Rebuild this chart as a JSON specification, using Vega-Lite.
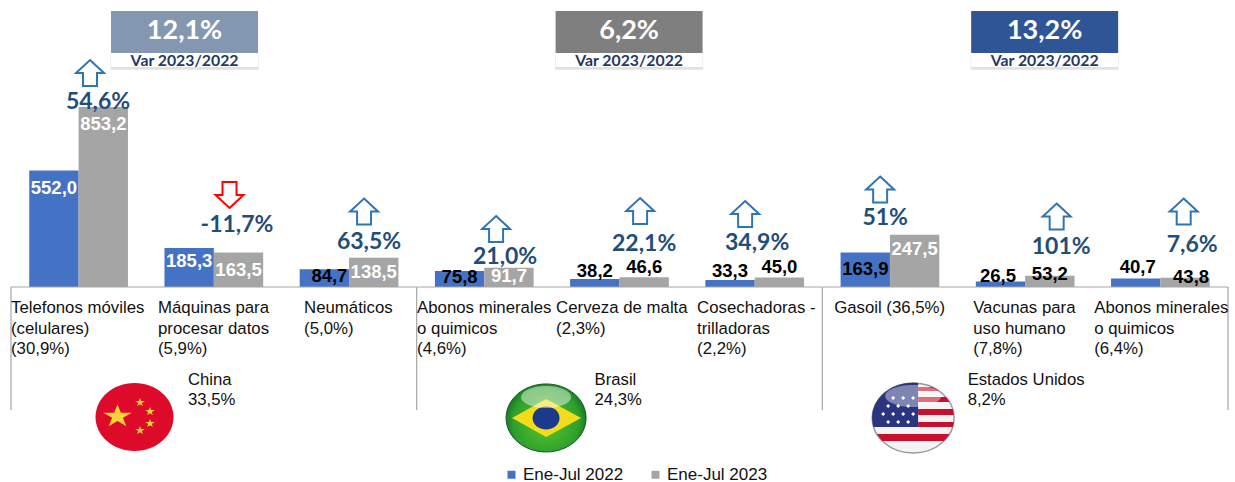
{
"$schema":"https://vega.github.io/schema/vega-lite/v6.json",
"width":1235,"height":482,
"autosize":{"type":"fit","contains":"padding"},
"padding":0,
"background":"white",
"config":{"view":{"stroke":null},"axis":{"disable":true}},
"params":[
{"name":"arrowDx","value":[11.4,15.7,15,11.8,20.6,-9.6,-9.8,31.5,23.3]},
{"name":"arrowDy","value":[-214,-92,-75.5,-58,-76,-73,-97.5,-70.5,-75.5]},
{"name":"pctDx","value":[19.4,23.2,20,20.8,24.6,2.4,-4.8,36,31.8]},
{"name":"pctDy","value":[-185,-62,-45,-30,-43,-44,-69,-40,-42]},
{"name":"catDx","value":[-67.6,-55.8,-45,-67.2,-63.4,-57.6,-55.8,-52,-66.2]},
{"name":"labelDy","value":{"552,0":17.5,"853,2":17,"185,3":13,"163,5":17.5,"84,7":7,"138,5":14,"75,8":6,"91,7":8.3,"38,2":-8,"46,6":-10,"33,3":-9,"45,0":-10.5,"163,9":16.6,"247,5":14,"26,5":-5.4,"53,2":-1.8,"40,7":-11.4,"43,8":-0.8}},
{"name":"labelDx","value":{"84,7":5,"26,5":-2.5,"40,7":2,"43,8":6}},
{"name":"boxDx","value":{"China":-29.3,"Brasil":9.6,"Estados Unidos":19.5}},
{"name":"countryDx","value":{"China":109.4,"Brasil":110.3,"Estados Unidos":77.7}}
],
"datasets":{
"values":[
{"category":"Telefonos móviles\n(celulares)\n(30,9%)","period":"Ene-Jul 2022","value":552.0,"label":"552,0"},
{"category":"Telefonos móviles\n(celulares)\n(30,9%)","period":"Ene-Jul 2023","value":853.2,"label":"853,2"},
{"category":"Máquinas para\nprocesar datos\n(5,9%)","period":"Ene-Jul 2022","value":185.3,"label":"185,3"},
{"category":"Máquinas para\nprocesar datos\n(5,9%)","period":"Ene-Jul 2023","value":163.5,"label":"163,5"},
{"category":"Neumáticos\n(5,0%)","period":"Ene-Jul 2022","value":84.7,"label":"84,7"},
{"category":"Neumáticos\n(5,0%)","period":"Ene-Jul 2023","value":138.5,"label":"138,5"},
{"category":"Abonos minerales\no quimicos\n(4,6%)","period":"Ene-Jul 2022","value":75.8,"label":"75,8"},
{"category":"Abonos minerales\no quimicos\n(4,6%)","period":"Ene-Jul 2023","value":91.7,"label":"91,7"},
{"category":"Cerveza de malta\n(2,3%)","period":"Ene-Jul 2022","value":38.2,"label":"38,2"},
{"category":"Cerveza de malta\n(2,3%)","period":"Ene-Jul 2023","value":46.6,"label":"46,6"},
{"category":"Cosechadoras -\ntrilladoras\n(2,2%)","period":"Ene-Jul 2022","value":33.3,"label":"33,3"},
{"category":"Cosechadoras -\ntrilladoras\n(2,2%)","period":"Ene-Jul 2023","value":45.0,"label":"45,0"},
{"category":"Gasoil (36,5%)","period":"Ene-Jul 2022","value":163.9,"label":"163,9"},
{"category":"Gasoil (36,5%)","period":"Ene-Jul 2023","value":247.5,"label":"247,5"},
{"category":"Vacunas para\nuso humano\n(7,8%)","period":"Ene-Jul 2022","value":26.5,"label":"26,5"},
{"category":"Vacunas para\nuso humano\n(7,8%)","period":"Ene-Jul 2023","value":53.2,"label":"53,2"},
{"category":"Abonos minerales\no quimicos\n(6,4%)","period":"Ene-Jul 2022","value":40.7,"label":"40,7"},
{"category":"Abonos minerales\no quimicos\n(6,4%)","period":"Ene-Jul 2023","value":43.8,"label":"43,8"}
],
"products":[
{"rank":1,"category":"Telefonos móviles\n(celulares)\n(30,9%)","change":"54,6%","direction":"up"},
{"rank":2,"category":"Máquinas para\nprocesar datos\n(5,9%)","change":"-11,7%","direction":"down"},
{"rank":3,"category":"Neumáticos\n(5,0%)","change":"63,5%","direction":"up"},
{"rank":4,"category":"Abonos minerales\no quimicos\n(4,6%)","change":"21,0%","direction":"up"},
{"rank":5,"category":"Cerveza de malta\n(2,3%)","change":"22,1%","direction":"up"},
{"rank":6,"category":"Cosechadoras -\ntrilladoras\n(2,2%)","change":"34,9%","direction":"up"},
{"rank":7,"category":"Gasoil (36,5%)","change":"51%","direction":"up"},
{"rank":8,"category":"Vacunas para\nuso humano\n(7,8%)","change":"101%","direction":"up"},
{"rank":9,"category":"Abonos minerales\no quimicos\n(6,4%)","change":"7,6%","direction":"up"}
],
"groups":[
{"country":"China","share":"China\n33,5%","change":"12,1%","note":"Var 2023/2022","first":"Telefonos móviles\n(celulares)\n(30,9%)","middle":"Máquinas para\nprocesar datos\n(5,9%)","last":"Neumáticos\n(5,0%)"},
{"country":"Brasil","share":"Brasil\n24,3%","change":"6,2%","note":"Var 2023/2022","first":"Abonos minerales\no quimicos\n(4,6%)","middle":"Cerveza de malta\n(2,3%)","last":"Cosechadoras -\ntrilladoras\n(2,2%)"},
{"country":"Estados Unidos","share":"Estados Unidos\n8,2%","change":"13,2%","note":"Var 2023/2022","first":"Gasoil (36,5%)","middle":"Vacunas para\nuso humano\n(7,8%)","last":"Abonos minerales\no quimicos\n(6,4%)"}
]
},
"layer":[
{"data":{"name":"values"},"mark":{"type":"bar"},
 "encoding":{
  "x":{"field":"category","type":"nominal","axis":null,"sort":null,"scale":{"domain":["Telefonos móviles\n(celulares)\n(30,9%)","Máquinas para\nprocesar datos\n(5,9%)","Neumáticos\n(5,0%)","Abonos minerales\no quimicos\n(4,6%)","Cerveza de malta\n(2,3%)","Cosechadoras -\ntrilladoras\n(2,2%)","Gasoil (36,5%)","Vacunas para\nuso humano\n(7,8%)","Abonos minerales\no quimicos\n(6,4%)"],"range":[11,1228],"paddingInner":0.27,"paddingOuter":0.135}},
  "xOffset":{"field":"period","type":"nominal","scale":{"paddingInner":0,"paddingOuter":0}},
  "y":{"field":"value","type":"quantitative","axis":null,"scale":{"domain":[-924.3,1360.4],"nice":false,"zero":false}},
  "color":{"field":"period","type":"nominal","scale":{"domain":["Ene-Jul 2022","Ene-Jul 2023"],"range":["#4472c4","#a5a5a5"]},
   "legend":{"orient":"none","legendX":503,"legendY":466,"direction":"horizontal","title":null,"symbolType":"square","symbolSize":64,"labelFontSize":17,"labelFont":"Liberation Sans","labelColor":"#111","columnPadding":23,"labelOffset":3,"symbolStrokeWidth":0,"labelLimit":140}}
 }},
{"data":{"name":"groups"},"mark":{"type":"rule","color":"#a6a6a6","strokeWidth":1.2,"xOffset":-67.6,"x2Offset":67.6},
 "encoding":{"x":{"field":"first","type":"nominal"},"x2":{"field":"last"},"y":{"datum":0}}},
{"data":{"name":"groups"},"mark":{"type":"rule","color":"#a6a6a6","strokeWidth":1.2,"xOffset":-67.6},
 "encoding":{"x":{"field":"first","type":"nominal"},"y":{"datum":0},"y2":{"datum":-583}}},
{"data":{"name":"groups"},"transform":[{"filter":"datum.country=='Estados Unidos'"}],"mark":{"type":"rule","color":"#a6a6a6","strokeWidth":1.2,"xOffset":67.6},
 "encoding":{"x":{"field":"last","type":"nominal"},"y":{"datum":0},"y2":{"datum":-583}}},
{"data":{"name":"values"},"mark":{"type":"text","font":"Liberation Sans","fontWeight":"bold","fontSize":18.5,"baseline":"middle","dx":{"expr":"labelDx[datum.label]||0"},"dy":{"expr":"labelDy[datum.label]"}},
 "encoding":{
  "x":{"field":"category","type":"nominal"},
  "xOffset":{"field":"period","type":"nominal"},
  "y":{"field":"value","type":"quantitative"},
  "text":{"field":"label"},
  "color":{"condition":{"test":"indexof(['552,0','853,2','185,3','163,5','138,5','91,7','247,5'],datum.label)>=0","value":"white"},"value":"black"}
 }},
{"data":{"name":"products"},"mark":{"type":"text","font":"Liberation Sans","fontSize":16.8,"align":"left","baseline":"middle","lineBreak":"\n","lineHeight":20.5,"color":"#111","dx":{"expr":"catDx[datum.rank-1]"},"dy":21},
 "encoding":{"x":{"field":"category","type":"nominal"},"y":{"datum":0},"text":{"field":"category"}}},
{"data":{"name":"products"},"transform":[{"filter":"datum.direction=='up'"}],"mark":{"type":"point","filled":true,"opacity":1,"size":4,"fill":"white","stroke":"#2e75b6","strokeWidth":2,"shape":"M0 -13 L14 0 L7 0 L7 13 L-7 13 L-7 0 L-14 0 Z","xOffset":{"expr":"arrowDx[datum.rank-1]"},"yOffset":{"expr":"arrowDy[datum.rank-1]"}},
 "encoding":{"x":{"field":"category","type":"nominal"},"y":{"datum":0}}},
{"data":{"name":"products"},"transform":[{"filter":"datum.direction=='down'"}],"mark":{"type":"point","filled":true,"opacity":1,"size":4,"fill":"white","stroke":"#ff0000","strokeWidth":2,"shape":"M0 13 L14 0 L7 0 L7 -13 L-7 -13 L-7 0 L-14 0 Z","xOffset":{"expr":"arrowDx[datum.rank-1]"},"yOffset":{"expr":"arrowDy[datum.rank-1]"}},
 "encoding":{"x":{"field":"category","type":"nominal"},"y":{"datum":0}}},
{"data":{"name":"products"},"mark":{"type":"text","font":"Lato","fontWeight":"bold","fontSize":23,"color":"#1f4e79","baseline":"middle","dx":{"expr":"pctDx[datum.rank-1]"},"dy":{"expr":"pctDy[datum.rank-1]"}},
 "encoding":{"x":{"field":"category","type":"nominal"},"y":{"datum":0},"text":{"field":"change"}}},
{"data":{"name":"groups"},"mark":{"type":"bar","width":148,"color":"#e2e2e2","xOffset":{"expr":"boxDx[datum.country]"}},
 "encoding":{"x":{"field":"middle","type":"nominal"},"y":{"datum":1100},"y2":{"datum":1030}}},
{"data":{"name":"groups"},"mark":{"type":"bar","width":147,"color":"white","xOffset":{"expr":"boxDx[datum.country]"}},
 "encoding":{"x":{"field":"middle","type":"nominal"},"y":{"datum":1109.2},"y2":{"datum":1042.8}}},
{"data":{"name":"groups"},"mark":{"type":"bar","width":147,"xOffset":{"expr":"boxDx[datum.country]"}},
 "encoding":{"x":{"field":"middle","type":"nominal"},"y":{"datum":1308.2},"y2":{"datum":1109.2},
  "fill":{"field":"country","type":"nominal","legend":null,"scale":{"domain":["China","Brasil","Estados Unidos"],"range":["#8497b0","#7f7f7f","#2f5597"]}}}},
{"data":{"name":"groups"},"mark":{"type":"text","font":"Lato","fontWeight":"bold","fontSize":27,"color":"white","baseline":"middle","dx":{"expr":"boxDx[datum.country]"}},
 "encoding":{"x":{"field":"middle","type":"nominal"},"y":{"datum":1213.4},"text":{"field":"change"}}},
{"data":{"name":"groups"},"mark":{"type":"text","font":"Lato","fontWeight":"bold","fontSize":15.8,"color":"#1f3864","baseline":"middle","dx":{"expr":"boxDx[datum.country]"}},
 "encoding":{"x":{"field":"middle","type":"nominal"},"y":{"datum":1073.6},"text":{"field":"note"}}},
{"data":{"name":"groups"},"mark":{"type":"text","font":"Liberation Sans","fontSize":16.7,"color":"#111","align":"left","baseline":"middle","lineBreak":"\n","lineHeight":20,"dx":{"expr":"countryDx[datum.country]"},"dy":93},
 "encoding":{"x":{"field":"first","type":"nominal"},"y":{"datum":0},"text":{"field":"share"}}},
{"data":{"name":"groups"},"transform":[{"filter":"datum.country=='China'"}],"mark":{"type":"point","filled":true,"opacity":1,"size":4,"fill":"#de0a2a","xOffset":55.9,"yOffset":0,"shape":"M-39 0 A39 34 0 1 1 39 0 A39 34 0 1 1 -39 0 Z"},
 "encoding":{"x":{"field":"first","type":"nominal"},"y":{"datum":-616}}},
{"data":{"name":"groups"},"transform":[{"filter":"datum.country=='China'"}],"mark":{"type":"point","filled":true,"opacity":1,"size":4,"fill":"#ffd23a","xOffset":55.9,"yOffset":0,"shape":"M-17 -12.5 L-13.6 -4.2 L-2.7 -4.2 L-11.6 0.9 L-8.2 9.2 L-17 4.1 L-25.8 9.2 L-22.4 0.9 L-31.3 -4.2 L-20.4 -4.2 Z M5.5 -19 l1.1 3.1 3.7 0 -3 1.9 1.1 3.1 -2.9 -1.9 -2.9 1.9 1.1 -3.1 -3 -1.9 3.7 0 z M15.5 -10 l1.1 3.1 3.7 0 -3 1.9 1.1 3.1 -2.9 -1.9 -2.9 1.9 1.1 -3.1 -3 -1.9 3.7 0 z M15.5 2 l1.1 3.1 3.7 0 -3 1.9 1.1 3.1 -2.9 -1.9 -2.9 1.9 1.1 -3.1 -3 -1.9 3.7 0 z M5.5 9 l1.1 3.1 3.7 0 -3 1.9 1.1 3.1 -2.9 -1.9 -2.9 1.9 1.1 -3.1 -3 -1.9 3.7 0 z"},
 "encoding":{"x":{"field":"first","type":"nominal"},"y":{"datum":-616}}},
{"data":{"name":"groups"},"transform":[{"filter":"datum.country=='Brasil'"}],"mark":{"type":"point","filled":true,"opacity":1,"size":4,"stroke":"#0f5c1e","strokeWidth":1,"fill":{"gradient":"radial","x1":0.5,"y1":0.55,"r1":0.1,"x2":0.5,"y2":0.55,"r2":0.55,"stops":[{"offset":0,"color":"#4fbf2c"},{"offset":0.7,"color":"#2f9e2c"},{"offset":1,"color":"#0e6a22"}]},"xOffset":61.8,"yOffset":1,"shape":"M-40 0 A40 34 0 1 1 40 0 A40 34 0 1 1 -40 0 Z"},
 "encoding":{"x":{"field":"first","type":"nominal"},"y":{"datum":-616}}},
{"data":{"name":"groups"},"transform":[{"filter":"datum.country=='Brasil'"}],"mark":{"type":"point","filled":true,"opacity":1,"size":4,"fill":"#f2dc1c","xOffset":61.8,"yOffset":1,"shape":"M0 -19 L35 0 L0 19 L-34 0 Z"},
 "encoding":{"x":{"field":"first","type":"nominal"},"y":{"datum":-616}}},
{"data":{"name":"groups"},"transform":[{"filter":"datum.country=='Brasil'"}],"mark":{"type":"point","filled":true,"opacity":1,"size":4,"fill":"#1b3a8c","xOffset":61.8,"yOffset":1,"shape":"M-13.5 0 A13.5 11.5 0 1 1 13.5 0 A13.5 11.5 0 1 1 -13.5 0 Z"},
 "encoding":{"x":{"field":"first","type":"nominal"},"y":{"datum":-616}}},
{"data":{"name":"groups"},"transform":[{"filter":"datum.country=='Brasil'"}],"mark":{"type":"point","filled":true,"opacity":0.45,"size":4,"fill":"white","xOffset":61.8,"yOffset":1,"shape":"M-25 -21 A25 11 0 1 1 25 -21 A25 11 0 1 1 -25 -21 Z"},
 "encoding":{"x":{"field":"first","type":"nominal"},"y":{"datum":-616}}},
{"data":{"name":"groups"},"transform":[{"filter":"datum.country=='Estados Unidos'"}],"mark":{"type":"point","filled":true,"opacity":1,"size":4,"fill":"#f4f4f4","stroke":"#999999","strokeWidth":1.5,"xOffset":23.2,"yOffset":1,"shape":"M-41 0 A41 35 0 1 1 41 0 A41 35 0 1 1 -41 0 Z"},
 "encoding":{"x":{"field":"first","type":"nominal"},"y":{"datum":-616}}},
{"data":{"name":"groups"},"transform":[{"filter":"datum.country=='Estados Unidos'"}],"mark":{"type":"point","filled":true,"opacity":1,"size":4,"fill":"#c8102e","xOffset":23.2,"yOffset":1,"shape":"M5 -31 L19 -31 L26 -27 L5 -27 Z M5 -21 L32.8 -21 L36.5 -16 L5 -16 Z M5 -9 L39.6 -9 L40.8 -3 L5 -3 Z M5 4 L40.7 4 L39.6 9 L5 9 Z M-36.5 16 L36.5 16 L30.9 23 L-30.9 23 Z"},
 "encoding":{"x":{"field":"first","type":"nominal"},"y":{"datum":-616}}},
{"data":{"name":"groups"},"transform":[{"filter":"datum.country=='Estados Unidos'"}],"mark":{"type":"point","filled":true,"opacity":1,"size":4,"fill":"#2a3580","xOffset":23.2,"yOffset":1,"shape":"M5 9 L-39.6 9 A41 35 0 0 1 5 -34.9 Z"},
 "encoding":{"x":{"field":"first","type":"nominal"},"y":{"datum":-616}}},
{"data":{"name":"groups"},"transform":[{"filter":"datum.country=='Estados Unidos'"}],"mark":{"type":"point","filled":true,"opacity":1,"size":4,"fill":"white","xOffset":23.2,"yOffset":1,"shape":"M-20 -22 l2 2 -2 2 -2 -2 z M-10 -22 l2 2 -2 2 -2 -2 z M0 -22 l2 2 -2 2 -2 -2 z M-25 -14 l2 2 -2 2 -2 -2 z M-15 -14 l2 2 -2 2 -2 -2 z M-5 -14 l2 2 -2 2 -2 -2 z M-30 -6 l2 2 -2 2 -2 -2 z M-20 -6 l2 2 -2 2 -2 -2 z M-10 -6 l2 2 -2 2 -2 -2 z M0 -6 l2 2 -2 2 -2 -2 z M-25 2 l2 2 -2 2 -2 -2 z M-15 2 l2 2 -2 2 -2 -2 z M-5 2 l2 2 -2 2 -2 -2 z"},
 "encoding":{"x":{"field":"first","type":"nominal"},"y":{"datum":-616}}},
{"data":{"name":"groups"},"transform":[{"filter":"datum.country=='Estados Unidos'"}],"mark":{"type":"point","filled":true,"opacity":0.4,"size":4,"fill":"white","xOffset":23.2,"yOffset":1,"shape":"M-28 -22 A28 11 0 1 1 28 -22 A28 11 0 1 1 -28 -22 Z"},
 "encoding":{"x":{"field":"first","type":"nominal"},"y":{"datum":-616}}}
]
}
